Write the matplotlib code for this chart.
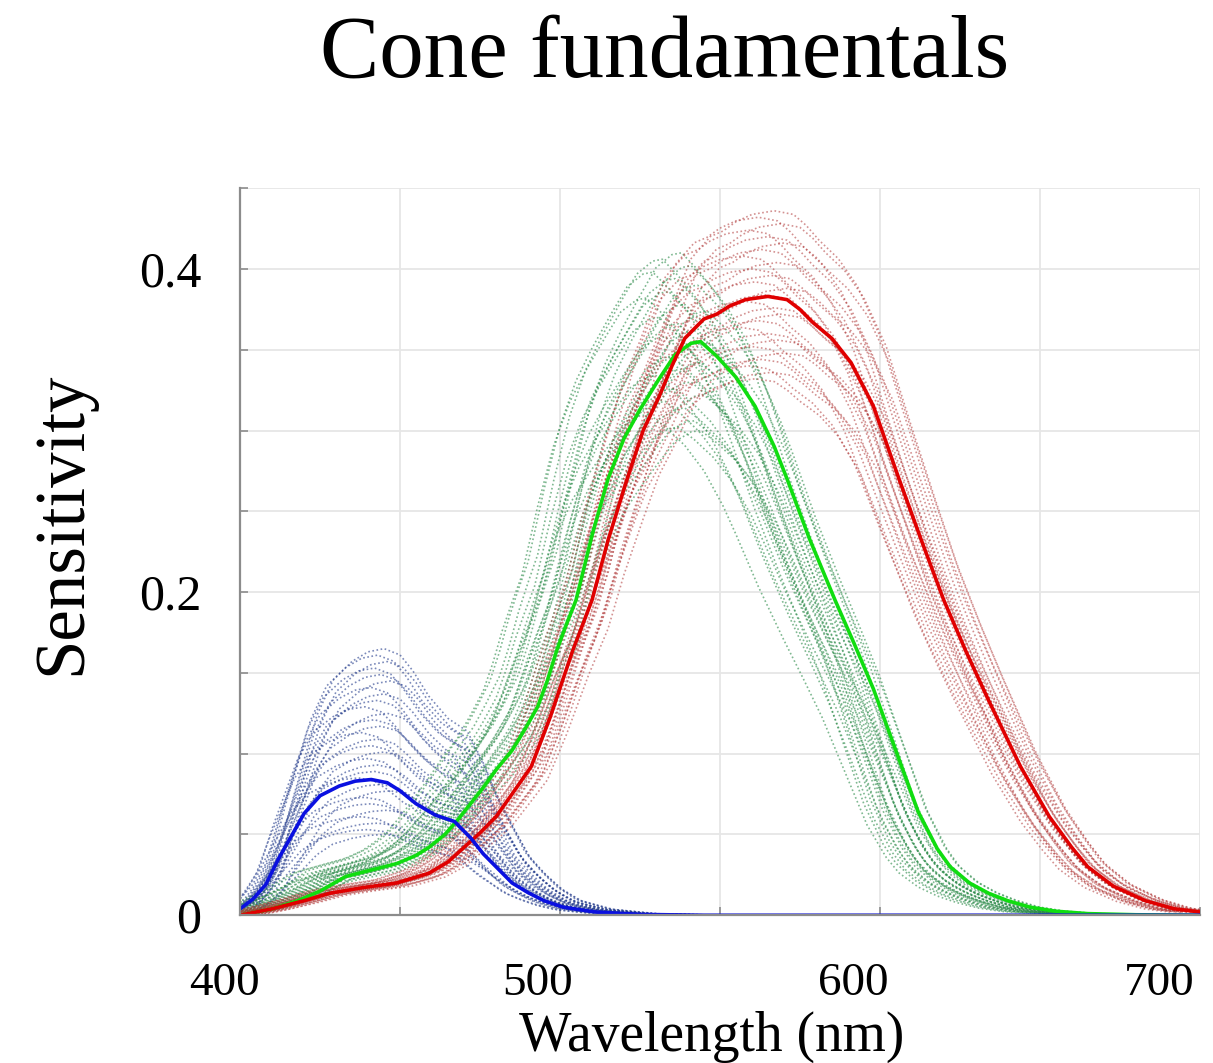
import matplotlib
matplotlib.use("Agg")
import matplotlib.pyplot as plt
import matplotlib.transforms as mtransforms
import numpy as np

# mean cone fundamentals
s_wl = [400, 404, 408, 412, 416, 420, 425, 431, 436, 441, 446, 450, 455, 461,
        467, 472, 476, 480, 485, 490, 495, 501, 511, 525, 545, 600, 700]
s_val = [0.004, 0.010, 0.019, 0.035, 0.049, 0.063, 0.074, 0.080, 0.083, 0.084,
         0.082, 0.077, 0.069, 0.062, 0.058, 0.048, 0.038, 0.030, 0.020, 0.014,
         0.009, 0.005, 0.002, 0.0005, 0.0, 0.0, 0.0]

m_wl = [400, 410, 418, 425, 433, 441, 449, 455, 459, 464, 468, 472, 476, 480,
        485, 489, 493, 496, 499, 502, 505, 510, 515, 520, 525, 531, 536, 541,
        544, 549, 555, 561, 567, 571, 578, 586, 592, 598, 605, 612, 618, 622,
        628, 634, 640, 647, 655, 665, 680, 700]
m_val = [0.0, 0.004, 0.009, 0.015, 0.024, 0.028, 0.032, 0.037, 0.042, 0.050,
         0.059, 0.069, 0.079, 0.090, 0.102, 0.115, 0.129, 0.145, 0.164, 0.180,
         0.195, 0.235, 0.270, 0.295, 0.313, 0.332, 0.347, 0.354, 0.355, 0.346,
         0.333, 0.315, 0.290, 0.270, 0.233, 0.195, 0.168, 0.140, 0.102, 0.064,
         0.041, 0.030, 0.020, 0.0136, 0.009, 0.005, 0.0025, 0.001, 0.0003, 0.0]

l_wl = [400, 410, 420, 428, 438, 449, 459, 465, 470, 475, 480, 485, 491, 497,
        504, 510, 515, 521, 526, 531, 535, 539, 545, 549, 553, 558, 565, 571,
        575, 579, 585, 591, 598, 606, 613, 620, 627, 634, 644, 653, 660, 665,
        673, 683, 692, 700]
l_val = [0.0, 0.004, 0.009, 0.0136, 0.017, 0.020, 0.026, 0.033, 0.042, 0.051,
         0.061, 0.075, 0.092, 0.123, 0.164, 0.195, 0.232, 0.270, 0.300, 0.321,
         0.340, 0.357, 0.369, 0.372, 0.377, 0.381, 0.383, 0.381, 0.375, 0.367,
         0.357, 0.342, 0.315, 0.270, 0.232, 0.195, 0.163, 0.133, 0.092, 0.061,
         0.042, 0.030, 0.018, 0.009, 0.004, 0.002]

# individual observers: peak height and wavelength shift (nm)
s_peaks = [0.165, 0.161, 0.157, 0.153, 0.149, 0.145, 0.141, 0.137, 0.133, 0.129,
           0.125, 0.121, 0.117, 0.113, 0.109, 0.105, 0.101, 0.097, 0.093, 0.089,
           0.085, 0.081, 0.077, 0.073, 0.069, 0.065, 0.061, 0.057, 0.053, 0.050]
s_shifts = [4, 2, 5, 1, 3, 6, 0, 4, 2, -2, 5, 1, 3, -3, 2, 0, 4, -1, 2, 1,
            -4, 3, 6, -2, 0, 5, -3, 2, -1, 4]

m_peaks = [0.410, 0.406, 0.402, 0.398, 0.394, 0.390, 0.386, 0.382, 0.378, 0.374,
           0.370, 0.366, 0.362, 0.358, 0.354, 0.350, 0.346, 0.342, 0.338, 0.334,
           0.330, 0.326, 0.322, 0.318, 0.314, 0.310, 0.306, 0.302, 0.300]
m_shifts = [-6, -12, -3, -15, -8, -1, -10, -17, -5, 2, -13, -7, -2, -11, 3, -4,
            -9, 0, -6, -14, -3, -8, 1, -11, -5, -16, -2, -7, 0]

l_peaks = [0.436, 0.432, 0.428, 0.424, 0.420, 0.416, 0.412, 0.408, 0.404, 0.400,
           0.396, 0.392, 0.388, 0.384, 0.380, 0.376, 0.372, 0.368, 0.364, 0.360,
           0.356, 0.352, 0.348, 0.344, 0.340, 0.336, 0.332]
l_shifts = [2, -3, 4, -6, 0, 5, -2, -8, 3, -5, 1, -4, 6, -1, -7, 2, 4, -3,
            -9, 0, 3, -5, 5, -2, -6, 1, -4]

plt.rcParams["font.family"] = ["Liberation Serif", "DejaVu Serif"]

fig = plt.figure(figsize=(12.13, 10.63), dpi=100)
ax = fig.add_axes([0.198, 0.139, 0.791, 0.684])

dots = (0, (1, 1.5))
for peak, shift in zip(s_peaks, s_shifts):
    ax.plot(np.array(s_wl) + shift, np.array(s_val) * peak / max(s_val),
            color="#243c8c", lw=1.2, ls=dots, alpha=0.6)
for peak, shift in zip(m_peaks, m_shifts):
    ax.plot(np.array(m_wl) + shift, np.array(m_val) * peak / max(m_val),
            color="#2a8a48", lw=1.2, ls=dots, alpha=0.6)
for peak, shift in zip(l_peaks, l_shifts):
    ax.plot(np.array(l_wl) + shift, np.array(l_val) * peak / max(l_val),
            color="#b03838", lw=1.2, ls=dots, alpha=0.55)

ax.plot(m_wl, m_val, color="#10dd10", lw=2.6)
ax.plot(l_wl, l_val, color="#e00000", lw=2.6)
ax.plot(s_wl, s_val, color="#0a10e0", lw=2.6)

x_ticks = [400, 450, 500, 550, 600, 650, 700]
x_labels = ["400", "", "500", "", "600", "", "700"]
# the labels sit a little left of their ticks in the original
x_label_nudge = [-16, 0, -23, 0, -27, 0, -40]
y_ticks = [0, 0.05, 0.1, 0.15, 0.2, 0.25, 0.3, 0.35, 0.4, 0.45]
y_labels = ["0", "", "", "", "0.2", "", "", "", "0.4", ""]

ax.set_xlim(400, 700)
ax.set_ylim(0, 0.45)
ax.set_xticks(x_ticks)
ax.set_xticklabels(x_labels)
ax.set_yticks(y_ticks)
ax.set_yticklabels(y_labels)
ax.grid(True, color="#e6e6e6", lw=1.3)
ax.set_axisbelow(True)
for side in ["top", "right"]:
    ax.spines[side].set_visible(False)
for side in ["left", "bottom"]:
    ax.spines[side].set_color("#8c8c8c")
    ax.spines[side].set_linewidth(1.6)
ax.tick_params(direction="in", length=6, width=1.2, color="#8c8c8c", labelsize=34)
ax.tick_params(axis="y", labelsize=36, pad=28)
ax.tick_params(axis="x", pad=34)

for lab, dx in zip(ax.get_xticklabels(), x_label_nudge):
    off = mtransforms.ScaledTranslation(dx / 100, 0, fig.dpi_scale_trans)
    lab.set_transform(lab.get_transform() + off)

fig.text(0.548, 0.948, "Cone fundamentals", fontsize=64, ha="center", va="center")
fig.text(0.587, 0.025, "Wavelength (nm)", fontsize=40, ha="center", va="center")
fig.text(0.052, 0.508, "Sensitivity", fontsize=51, ha="center", va="center",
         rotation=90)

fig.savefig("out.png", dpi=100)
